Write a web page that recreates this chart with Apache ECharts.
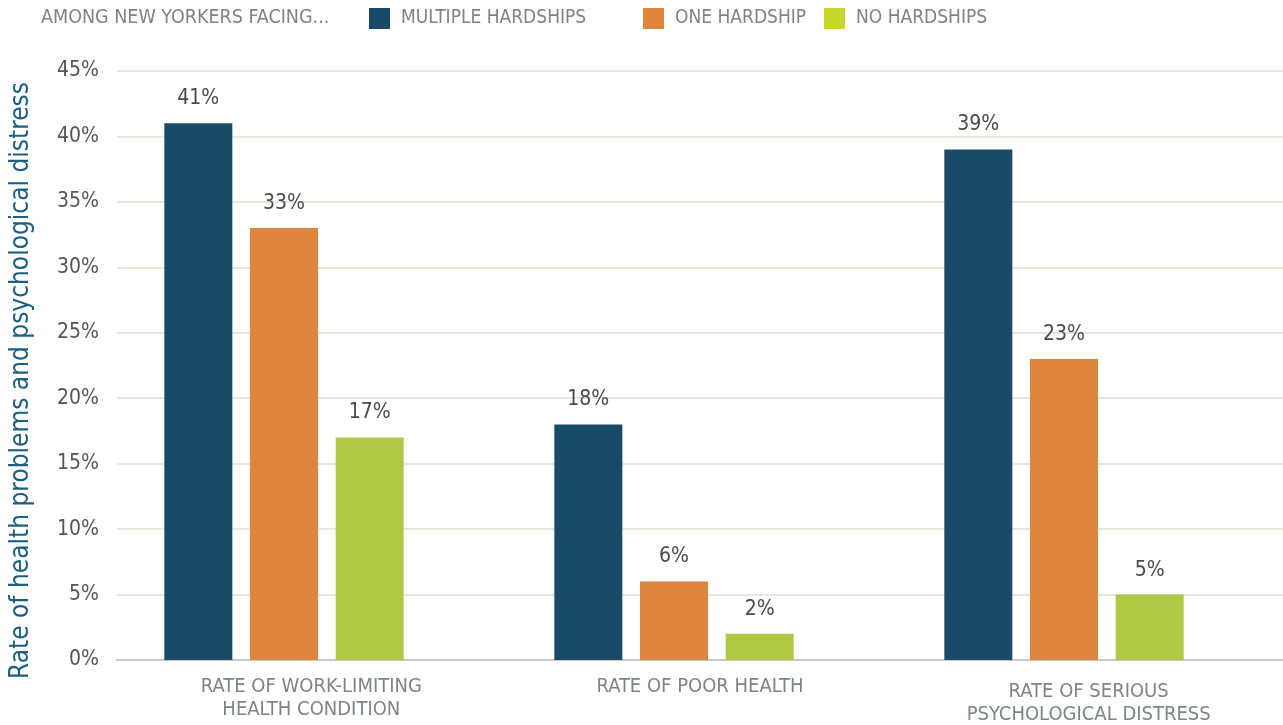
<!DOCTYPE html>
<html>
<head>
<meta charset="utf-8">
<script src="https://cdn.jsdelivr.net/npm/echarts@6/dist/echarts.min.js"></script>
<style>
  html, body { margin: 0; padding: 0; background: #fff; }
  #chart { width: 1283px; height: 725px; }
</style>
</head>
<body>
<div id="chart"></div>
<script>
// data
const categories = ['RATE OF WORK-LIMITING\nHEALTH CONDITION', 'RATE OF POOR HEALTH', 'RATE OF SERIOUS\nPSYCHOLOGICAL DISTRESS']
const seriesNames = ['MULTIPLE HARDSHIPS', 'ONE HARDSHIP', 'NO HARDSHIPS']
const multipleHardships = [41, 18, 39]
const oneHardship = [33, 6, 23]
const noHardships = [17, 2, 5]
const yTicks = [0, 5, 10, 15, 20, 25, 30, 35, 40, 45]

const font = '"Liberation Sans Narrow", "DejaVu Sans Condensed", "Roboto", sans-serif'
const colors = ['#194a68', '#e1843d', '#b0c944']
const legendColors = ['#194a68', '#e1843d', '#c6d52b']
const legendLefts = [369, 643, 824]

const chart = echarts.init(document.getElementById('chart'))

const makeSeries = (name, values, i) => ({
  name: name,
  type: 'bar',
  xAxisIndex: 1,
  yAxisIndex: 1,
  data: values,
  barWidth: 68,
  barGap: '26%',
  itemStyle: { color: colors[i] },
  label: {
    show: true,
    position: 'top',
    distance: 14,
    formatter: '{c}%',
    color: '#4a4a4a',
    fontSize: 21,
    fontFamily: font
  }
})

// one legend per item so each sits where it does in the picture
const legends = seriesNames.map((n, i) => ({
  left: legendLefts[i],
  top: 8,
  padding: 0,
  itemWidth: 21,
  itemHeight: 21,
  icon: 'rect',
  textStyle: { color: '#7a8585', fontSize: 19, fontFamily: font, padding: [0, 0, 0, 6] },
  data: [{ name: n, itemStyle: { color: legendColors[i] } }]
}))

const option = {
  animation: false,
  textStyle: { fontFamily: font },
  graphic: [{
    type: 'text',
    left: 41,
    top: 8,
    style: {
      text: 'AMONG NEW YORKERS FACING...',
      fill: '#7a8585',
      fontSize: 19.5,
      fontFamily: font
    }
  }],
  legend: legends,
  grid: [
    { left: 117, right: 0, top: 71, bottom: 65, outerBoundsMode: 'none' },
    { left: 89, right: 24, top: 71, bottom: 65, outerBoundsMode: 'none' }
  ],
  xAxis: [
    {
      type: 'category',
      gridIndex: 0,
      data: categories.map((c, i) => i === 2 ? { value: c, textStyle: { padding: [5, 0, 0, 0] } } : c),
      axisLine: { lineStyle: { color: '#c9c9c4', width: 2 } },
      axisTick: { show: false },
      axisLabel: { color: '#7a8585', fontSize: 20, lineHeight: 23, margin: 15, fontFamily: font }
    },
    { type: 'category', gridIndex: 1, data: categories, show: false }
  ],
  yAxis: [
    {
      type: 'value',
      gridIndex: 0,
      min: yTicks[0],
      max: yTicks[yTicks.length - 1],
      interval: 5,
      name: 'Rate of health problems and psychological distress',
      nameLocation: 'middle',
      nameGap: 83,
      nameTextStyle: { color: '#1d5f80', fontSize: 26, fontFamily: font, padding: [0, 0, 0, -30] },
      axisLine: { show: false },
      axisTick: { show: false },
      axisLabel: { formatter: '{value}%', color: '#555', fontSize: 21, margin: 18, fontFamily: font },
      splitLine: { lineStyle: { color: '#e6e6da', width: 2 } }
    },
    { type: 'value', gridIndex: 1, min: 0, max: 45, show: false }
  ],
  series: [
    makeSeries(seriesNames[0], multipleHardships, 0),
    makeSeries(seriesNames[1], oneHardship, 1),
    makeSeries(seriesNames[2], noHardships, 2)
  ]
}

chart.setOption(option)
</script>
</body>
</html>
